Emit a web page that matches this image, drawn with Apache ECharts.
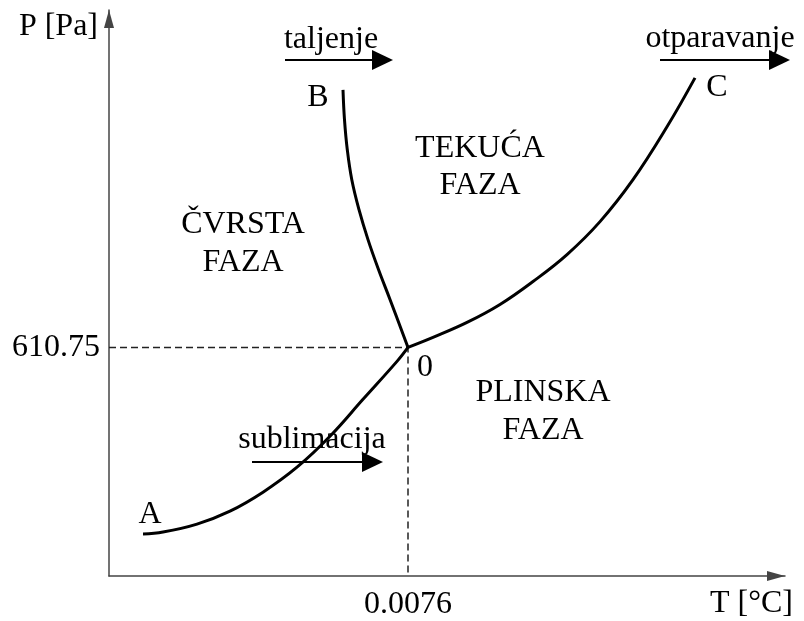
<!DOCTYPE html>
<html>
<head>
<meta charset="utf-8">
<script src="https://cdn.jsdelivr.net/npm/echarts@6/dist/echarts.min.js"></script>
<style>
  html, body { margin: 0; padding: 0; background: #fff; }
  #chart { width: 804px; height: 621px; }
</style>
</head>
<body>
<div id="chart"></div>
<script>
// Schematic phase diagram (plot units; axes are not to scale)
const sublimationCurve = [[34, 42], [54, 44], [88, 52], [121, 65], [154, 84], [188, 109], [221, 140], [254, 177], [288, 215], [299, 229]];
const meltingCurve = [[299, 229], [281, 277], [269.5, 307], [259, 337], [250, 367], [242.8, 397], [238.3, 427], [235.5, 457], [234, 487]];
const vaporizationCurve = [[299, 229], [324, 239], [358, 254], [391, 272], [424, 295], [458, 322], [491, 355], [524, 397], [558, 450], [586, 499]];
const triplePoint = [299, 229];
const tickLabelT = '0.0076';
const tickLabelP = '610.75';
const axisNameT = 'T [°C]';
const axisNameP = 'P [Pa]';

const FONT = "'Liberation Serif', 'Times New Roman', serif";
const FS = 32;
const chart = echarts.init(document.getElementById('chart'), null, { renderer: 'canvas' });

const curveStyle = { color: '#000', width: 3 };
const curve = (name, data) => ({
  name, type: 'line', data, smooth: 0.4, symbol: 'none',
  lineStyle: curveStyle, silent: true, z: 3
});

const DY = 3;
function textEl(text, x, y, extra) {
  return {
    type: 'text', x, y: y + DY,
    style: Object.assign({ text, font: `${FS}px ${FONT}`, fill: '#000', align: 'center', verticalAlign: 'middle' }, extra || {})
  };
}
function arrowEl(x1, x2, y) {
  return [
    { type: 'line', shape: { x1, y1: y, x2: x2 - 18, y2: y }, style: { stroke: '#000', lineWidth: 2 } },
    { type: 'polygon', shape: { points: [[x2 - 21, y - 10], [x2, y], [x2 - 21, y + 10]] }, style: { fill: '#000' } }
  ];
}

const axisLineCfg = {
  show: true, symbol: ['none', 'triangle'], symbolSize: [10, 18], symbolOffset: [0, -9],
  lineStyle: { color: '#444', width: 1.5 }
};

const option = {
  backgroundColor: '#fff',
  animation: false,
  grid: { left: 109, right: 19, top: 10, bottom: 44, containLabel: false },
  xAxis: {
    type: 'value', min: 0, max: 676,
    name: axisNameT, nameLocation: 'end', nameGap: 8,
    nameTextStyle: { fontFamily: FONT, fontSize: FS, color: '#000', align: 'right', verticalAlign: 'top', padding: [12, 0, 0, 0] },
    axisLine: axisLineCfg,
    axisTick: { show: false },
    splitLine: { show: false },
    axisLabel: { customValues: [triplePoint[0]], formatter: () => tickLabelT, margin: 13, fontFamily: FONT, fontSize: FS, color: '#000' }
  },
  yAxis: {
    type: 'value', min: 0, max: 567,
    name: axisNameP, nameLocation: 'end', nameGap: -1,
    nameTextStyle: { fontFamily: FONT, fontSize: FS, color: '#000', align: 'right', verticalAlign: 'top', padding: [0, 11, 0, 0] },
    axisLine: axisLineCfg,
    axisTick: { show: false },
    splitLine: { show: false },
    axisLabel: { customValues: [triplePoint[1]], formatter: () => tickLabelP, margin: 9, fontFamily: FONT, fontSize: FS, color: '#000', padding: [4, 0, 0, 0] }
  },
  series: [
    {
      name: 'guides', type: 'line', symbol: 'none', silent: true, z: 2,
      data: [[0, triplePoint[1]], triplePoint, [triplePoint[0], 0]],
      lineStyle: { color: '#222', width: 1.5, type: [7, 4] }
    },
    curve('sublimacija', sublimationCurve),
    curve('taljenje', meltingCurve),
    curve('otparavanje', vaporizationCurve)
  ],
  graphic: [
    textEl('taljenje', 331, 37),
    ...arrowEl(285, 393, 60),
    textEl('otparavanje', 720, 36),
    ...arrowEl(660, 790, 60),
    textEl('sublimacija', 312, 437),
    ...arrowEl(252, 383, 462),
    textEl('B', 318, 95),
    textEl('C', 717, 85),
    textEl('A', 150, 512),
    textEl('0', 425, 365),
    textEl('TEKUĆA\nFAZA', 480, 164.5, { lineHeight: 37 }),
    textEl('ČVRSTA\nFAZA', 243, 241, { lineHeight: 38 }),
    textEl('PLINSKA\nFAZA', 543, 409, { lineHeight: 38 })
  ]
};
chart.setOption(option);
</script>
</body>
</html>
